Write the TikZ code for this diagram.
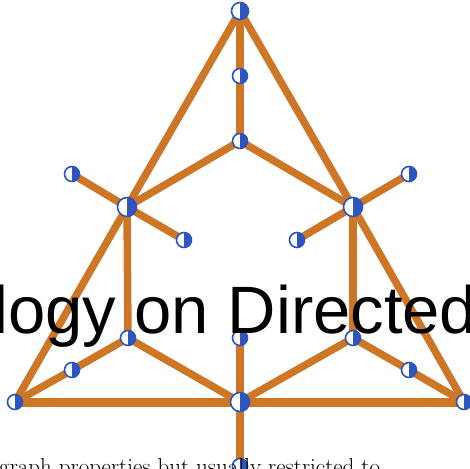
\documentclass[tikz,border=0pt]{standalone}
\usepackage{fontspec}
\newfontfamily\arialfont{Liberation Sans}
\usetikzlibrary{backgrounds}
\definecolor{edgeor}{RGB}{205,118,38}
\definecolor{nodeblue}{RGB}{45,85,190}
\tikzset{
  vnode/.style={circle, draw=nodeblue, line width=1.6pt, fill=white, minimum size=15pt, inner sep=0pt,
    path picture={\fill[nodeblue] (path picture bounding box.north) rectangle (path picture bounding box.south east);}},
  hub/.style={vnode, minimum size=19pt},
  topv/.style={vnode, minimum size=17pt},
  edge/.style={draw=edgeor, line width=7.5pt},
  basebar/.style={draw=edgeor, line width=9pt},
}
\begin{document}
\begin{tikzpicture}[x=1pt,y=-1pt]
\useasboundingbox (0,0) rectangle (470,468);
\clip (0,0) rectangle (470,468);
% nodes
\node[topv] (T) at (240,11) {};
\node[vnode] (T2) at (240,76) {};
\node[vnode] (T3) at (240,141) {};
\node[hub] (L) at (127,207) {};
\node[hub] (R) at (353,207) {};
\node[vnode] (LL) at (72,174) {};
\node[vnode] (LR) at (184,240) {};
\node[vnode] (RL) at (297,240) {};
\node[vnode] (RR) at (409,174) {};
\node[vnode] (BL) at (15,402) {};
\node[hub] (BC) at (240,402) {};
\node[vnode] (BR) at (464,402) {};
\node[vnode] (LI) at (128,338) {};
\node[vnode] (LS) at (72,370) {};
\node[vnode] (CM) at (240,338) {};
\node[vnode] (RI) at (353,338) {};
\node[vnode] (RS) at (409,370) {};
\node[vnode] (BB) at (240,466) {};
% edges
\begin{scope}[on background layer]
\draw[edge] (T.center) -- (T2.center) -- (T3.center);
\draw[edge] (T.center) -- (L.center) -- (BL.center);
\draw[edge] (T.center) -- (R.center) -- (BR.center);
\draw[edge] (T3.center) -- (L.center);
\draw[edge] (T3.center) -- (R.center);
\draw[edge] (L.center) -- (LL.center);
\draw[edge] (L.center) -- (LR.center);
\draw[edge] (R.center) -- (RR.center);
\draw[edge] (R.center) -- (RL.center);
\draw[edge] (L.center) -- (LI.center);
\draw[edge] (R.center) -- (RI.center);
\draw[edge] (LI.center) -- (BC.center);
\draw[edge] (RI.center) -- (BC.center);
\draw[edge] (LI.center) -- (LS.center) -- (BL.center);
\draw[edge] (RI.center) -- (RS.center) -- (BR.center);
\draw[edge] (CM.center) -- (BC.center) -- (BB.center);
\draw[basebar] (BL.center) -- (BC.center) -- (BR.center);
\end{scope}
% overlaid texts
\node[anchor=base west, inner sep=0pt, font=\arialfont\fontsize{67}{67}\selectfont] (title) at (-7,333) {logy on Directed};
\node[anchor=base west, inner sep=0pt, font=\fontsize{23}{23}\selectfont] (sub) at (-1,474) {graph properties but usually restricted to};
\end{tikzpicture}
\end{document}
